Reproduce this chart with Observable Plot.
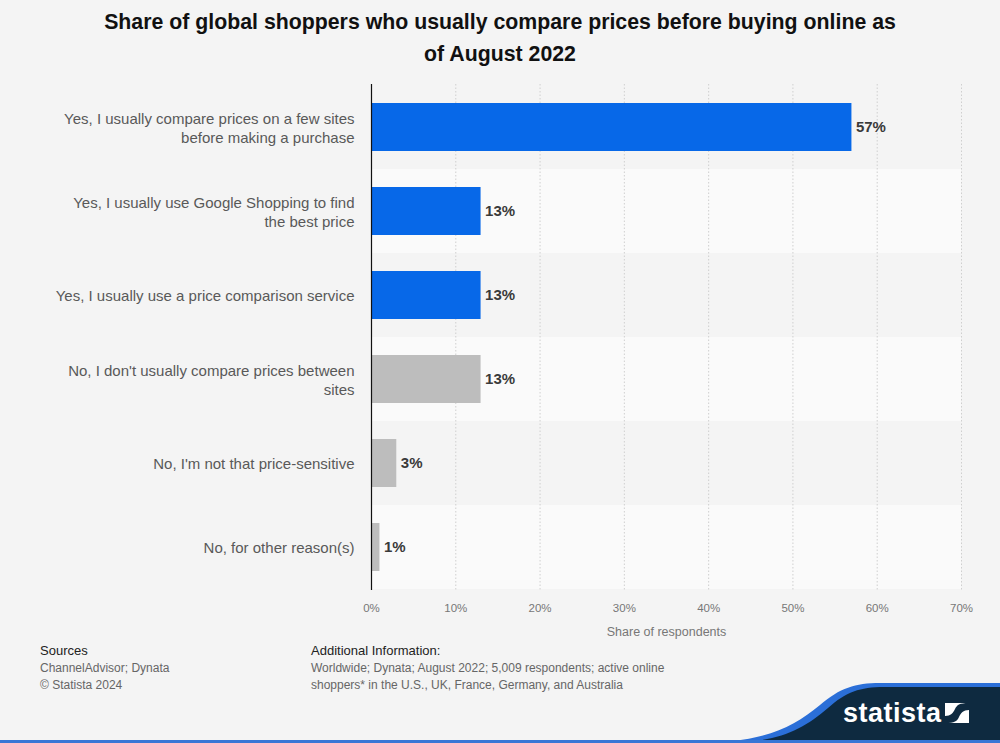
<!DOCTYPE html>
<html><head><meta charset="utf-8">
<script src="https://cdn.jsdelivr.net/npm/d3@7"></script>
<script src="https://cdn.jsdelivr.net/npm/@observablehq/plot@0.6"></script>
<style>
body{margin:0;background:#f4f4f4;font-family:"Liberation Sans",Arial,sans-serif;}
#wrap{position:relative;width:1000px;height:743px;overflow:hidden;background:#f4f4f4;}
#title{position:absolute;top:6px;left:0;width:1000px;text-align:center;font-weight:bold;font-size:21.3px;line-height:32px;color:#111;}
#chart{position:absolute;top:75px;left:0;}
.foot{position:absolute;font-size:12px;line-height:17px;color:#666;}
.foot b{font-weight:normal;color:#222;font-size:13px;}
#logo{position:absolute;left:0;top:670px;}
</style></head>
<body><div id="wrap">
<div id="title">Share of global shoppers who usually compare prices before buying online as<br>of August 2022</div>
<div id="chart"></div>
<div class="foot" style="left:40px;top:642px;"><b>Sources</b><br>ChannelAdvisor; Dynata<br>© Statista 2024</div>
<div class="foot" style="left:311px;top:642px;"><b>Additional Information:</b><br>Worldwide; Dynata; August 2022; 5,009 respondents; active online<br>shoppers* in the U.S., UK, France, Germany, and Australia</div>
<svg id="logo" width="1000" height="73" viewBox="0 0 1000 73">
  <path d="M690,73 C760,73 790,60 820,35 C840,18 855,13 880,13 L1000,13 L1000,73 Z" fill="#2b6fd8"/>
  <path d="M720,73 C775,73 800,62 828,38 C846,22 860,17 884,17 L1000,17 L1000,73 Z" fill="#0e2a40"/>
  <rect x="0" y="70" width="1000" height="3" fill="#3a76d6"/>
  <text x="843" y="52" fill="#fff" font-family="Liberation Sans, Arial" font-weight="bold" font-size="27" letter-spacing="0.5">statista</text>
  <g transform="translate(945,33)">
    <rect x="0" y="0" width="24" height="20" fill="#fff"/>
    <path d="M0,20 L0,13 C6,13 8,10 10,6 C12,2 14,0 24,0 L24,7 C18,7 16,10 14,14 C12,18 10,20 0,20 Z" fill="#0e2a40"/>
  </g>
</svg>
</div>
<script>
const categories = [
  "Yes, I usually compare prices on a few sites\nbefore making a purchase",
  "Yes, I usually use Google Shopping to find\nthe best price",
  "Yes, I usually use a price comparison service",
  "No, I don't usually compare prices between\nsites",
  "No, I'm not that price-sensitive",
  "No, for other reason(s)"
];
const values = [57, 13, 13, 13, 3, 1];
const answerGroup = ["Yes", "Yes", "Yes", "No", "No", "No"];
const xTicks = [0, 10, 20, 30, 40, 50, 60, 70];
const xTitle = "Share of respondents";
const stripeRows = [categories[1], categories[3], categories[5]];

const data = categories.map((c, i) => ({category: c, value: values[i], group: answerGroup[i]}));

const chart = Plot.plot({
  width: 1000,
  height: 565,
  marginTop: 9,
  marginBottom: 50,
  marginLeft: 371,
  marginRight: 39,
  style: {fontFamily: "Liberation Sans, Arial, sans-serif", background: "transparent"},
  x: {domain: [0, 70]},
  y: {domain: categories, padding: 0},
  color: {domain: ["Yes", "No"], range: ["#0768e8", "#bdbdbd"]},
  marks: [
    Plot.barX(stripeRows, {x1: 0, x2: 70, y: d => d, fill: "#fafafa"}),
    Plot.gridX(xTicks.slice(1), {stroke: "#cfcfcf", strokeOpacity: 1, strokeDasharray: "1.5,2"}),
    Plot.barX(data, {x: "value", y: "category", fill: "group", insetTop: 18, insetBottom: 18}),
    Plot.ruleX([0], {stroke: "#111", strokeWidth: 1.2}),
    Plot.text(data, {x: "value", y: "category", text: d => d.value + "%", dx: 4, textAnchor: "start", fontWeight: "bold", fontSize: 15, fill: "#3a3a3a"}),
    Plot.axisX(xTicks, {tickSize: 0, tickPadding: 13, tickFormat: d => d + "%", fontSize: 11.5, fill: "#777", label: null}),
    Plot.text([xTitle], {frameAnchor: "bottom", dy: 45, fontSize: 12.5, fill: "#777"}),
    Plot.axisY({tickSize: 0, tickPadding: 17, fontSize: 15, fill: "#595959", lineHeight: 1.22, label: null, textOverflow: null, lineWidth: Infinity})
  ]
});
document.getElementById("chart").appendChild(chart);
</script>
</body></html>
